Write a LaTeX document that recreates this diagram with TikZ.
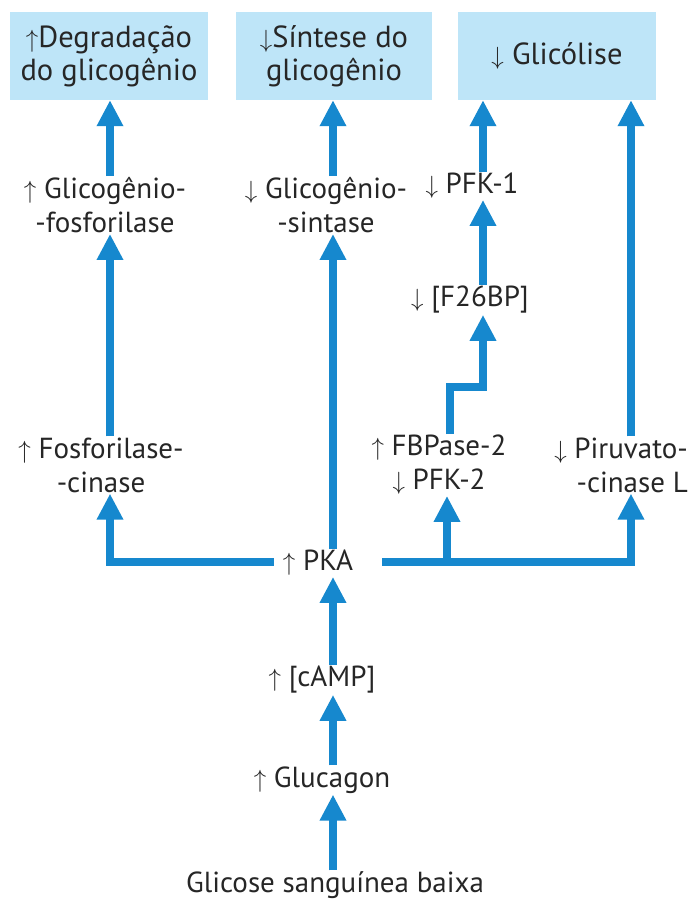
\documentclass[tikz,border=0pt]{standalone}
\usepackage{fontspec}
\setmainfont{PT Sans}
\usetikzlibrary{arrows.meta}
\definecolor{arrblue}{RGB}{22,136,206}
\definecolor{boxblue}{RGB}{190,229,248}
\begin{document}
\begin{tikzpicture}[x=1pt,y=-1pt,
  lbl/.style={font=\fontsize{29}{34}\selectfont, align=center, inner sep=1pt, text=black!85},
  bx/.style={lbl, font=\fontsize{30.5}{33}\selectfont, fill=boxblue, minimum height=88pt},
  arr/.style={draw=arrblue, line width=8pt, -{Triangle[width=25pt,length=26pt]}}]
\useasboundingbox[fill=white] (0,0) rectangle (693,911);
% boxes
\node[bx, minimum width=198pt] (b1) at (109,56) {$\uparrow$Degradação\\do glicogênio};
\node[bx, minimum width=196pt] (b2) at (334,56) {$\downarrow$Síntese do\\glicogênio};
\node[bx, minimum width=198pt] (b3) at (557,56) {$\downarrow$ Glicólise};
% labels
\node[lbl] (gf) at (105,205) {$\uparrow$ Glicogênio-\\-fosforilase};
\node[lbl] (gs) at (326,205) {$\downarrow$ Glicogênio-\\-sintase};
\node[lbl] (pfk1) at (472,186) {$\downarrow$ PFK-1};
\node[lbl] (f26) at (470,300) {$\downarrow$ [F26BP]};
\node[lbl] (fk) at (101,465) {$\uparrow$ Fosforilase-\\-cinase};
\node[lbl] (fbp) at (439,465) {$\uparrow$ FBPase-2\\$\downarrow$ PFK-2};
\node[lbl, align=right, anchor=east] (pk) at (689,465) {$\downarrow$ Piruvato-\\-cinase L};
\node[lbl] (pka) at (318,563) {$\uparrow$ PKA};
\node[lbl] (camp) at (322,680) {$\uparrow$ [cAMP]};
\node[lbl] (gluc) at (322,780) {$\uparrow$ Glucagon};
\node[lbl] (glic) at (335,885) {Glicose sanguínea baixa};
% columns
\coordinate (c1) at (110,0);
\coordinate (c2) at (333,0);
\coordinate (c3) at (483,0);
\coordinate (c4) at (631,0);
\coordinate (c5) at (447,0);
\coordinate (c6) at (450,0);
\coordinate (hy) at (0,562);
\coordinate (sy) at (0,387);
% arrows
\draw[arr] (c1 |- gf.north) -- (c1 |- b1.south);
\draw[arr] (c1 |- fk.north) -- (c1 |- gf.south);
\draw[arr] (c2 |- gs.north) -- (c2 |- b2.south);
\draw[arr] (c2 |- pka.north) -- (c2 |- gs.south);
\draw[arr] (c3 |- pfk1.north) -- (c3 |- b3.south);
\draw[arr] (c3 |- f26.north) -- (c3 |- pfk1.south);
\draw[arr] (c6 |- fbp.north) -- (c6 |- sy) -- (c3 |- sy) -- (c3 |- f26.south);
\draw[arr] (c4 |- pk.north) -- (c4 |- b3.south);
\draw[arr] ([xshift=-8pt]pka.west |- hy) -- (c1 |- hy) -- (c1 |- fk.south);
\draw[arr] ([xshift=28pt]pka.east |- hy) -- (c4 |- hy) -- (c4 |- pk.south);
\draw[arr] (c5 |- hy) -- (c5 |- fbp.south);
\draw[arr] (c2 |- camp.north) -- (c2 |- pka.south);
\draw[arr] (c2 |- gluc.north) -- (c2 |- camp.south);
\draw[arr] (c2 |- glic.north) -- (c2 |- gluc.south);
\end{tikzpicture}
\end{document}
